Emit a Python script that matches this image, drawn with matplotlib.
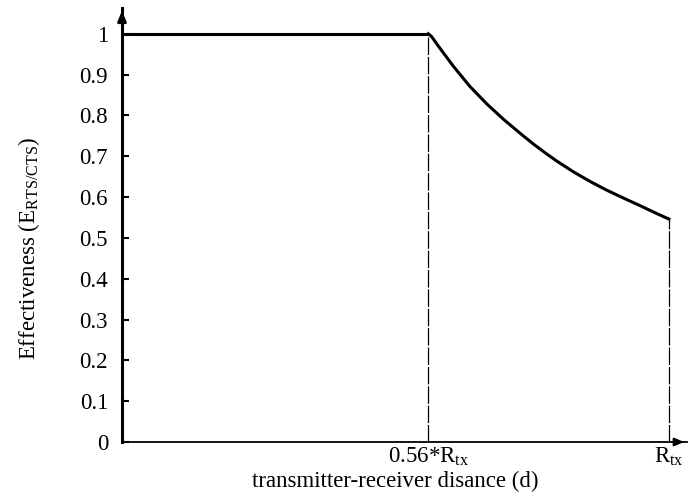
import matplotlib
matplotlib.use("Agg")
import matplotlib.pyplot as plt
import numpy as np

# data
flat_x = [0.0, 0.56]
flat_y = [1.0, 1.0]
curve_x = [0.56, 0.566, 0.581, 0.606, 0.636, 0.667, 0.697, 0.728, 0.752, 0.776,
           0.795, 0.825, 0.856, 0.886, 0.916, 0.947, 0.977, 1.0]
curve_y = [1.0, 0.993, 0.965, 0.920, 0.871, 0.828, 0.791, 0.756, 0.730, 0.706,
           0.688, 0.662, 0.638, 0.617, 0.598, 0.579, 0.560, 0.546]
y_ticks = [0, 0.1, 0.2, 0.3, 0.4, 0.5, 0.6, 0.7, 0.8, 0.9, 1]
y_tick_labels = ["0", "0.1", "0.2", "0.3", "0.4", "0.5", "0.6", "0.7", "0.8", "0.9", "1"]
x_ticks = [0.56, 1.0]
x_tick_labels = [r"0.56*R$_{\mathregular{tx}}$", r"R$_{\mathregular{tx}}$"]

plt.rcParams['font.family'] = ['Liberation Serif', 'DejaVu Serif']
plt.rcParams['mathtext.fontset'] = 'custom'
plt.rcParams['mathtext.rm'] = 'Liberation Serif'

FS = 16.5

fig = plt.figure(figsize=(6.88, 5.0), dpi=100)
ax = fig.add_axes([122/688, 58/500, 565/688, 434/500])
ax.set_xlim(0, 1.033)
ax.set_ylim(0, 1.063)

ax.plot(flat_x, flat_y, color='black', lw=2.2, solid_capstyle='butt')
ax.plot(curve_x, curve_y, color='black', lw=2.2, solid_joinstyle='round')
ax.plot([0.56, 0.56], [0, 1.0], color='black', lw=0.9, dashes=(14, 1.5))
ax.plot([1.0, 1.0], [0, curve_y[-1]], color='black', lw=0.9, dashes=(14, 1.5))

for s in ['top', 'right']:
    ax.spines[s].set_visible(False)
ax.spines['left'].set_linewidth(2.2)
ax.spines['bottom'].set_linewidth(1.3)

# arrow heads
ax.annotate('', xy=(0, 1.063), xytext=(0, 1.02), xycoords='data',
            arrowprops=dict(arrowstyle='-|>,head_length=0.6,head_width=0.25', color='black', lw=2),
            annotation_clip=False)
ax.annotate('', xy=(1.033, 0), xytext=(1.0, 0), xycoords='data',
            arrowprops=dict(arrowstyle='-|>,head_length=0.6,head_width=0.25', color='black', lw=1.3),
            annotation_clip=False)

ax.set_yticks(y_ticks)
ax.set_yticklabels(y_tick_labels, fontsize=FS)
ax.tick_params(axis='y', direction='in', length=5, width=1.5, pad=10)
ax.set_xticks(x_ticks)
ax.set_xticklabels(x_tick_labels, fontsize=FS)
ax.tick_params(axis='x', length=0, pad=2)

ax.set_xlabel("transmitter-receiver disance (d)", fontsize=FS)
ax.xaxis.set_label_coords(0.483, -0.066)
ax.set_ylabel(r"Effectiveness (E$_{\mathregular{RTS/CTS}}$)", fontsize=FS)
ax.yaxis.set_label_coords(-0.142, 0.445)

fig.savefig("out.png", dpi=100)
